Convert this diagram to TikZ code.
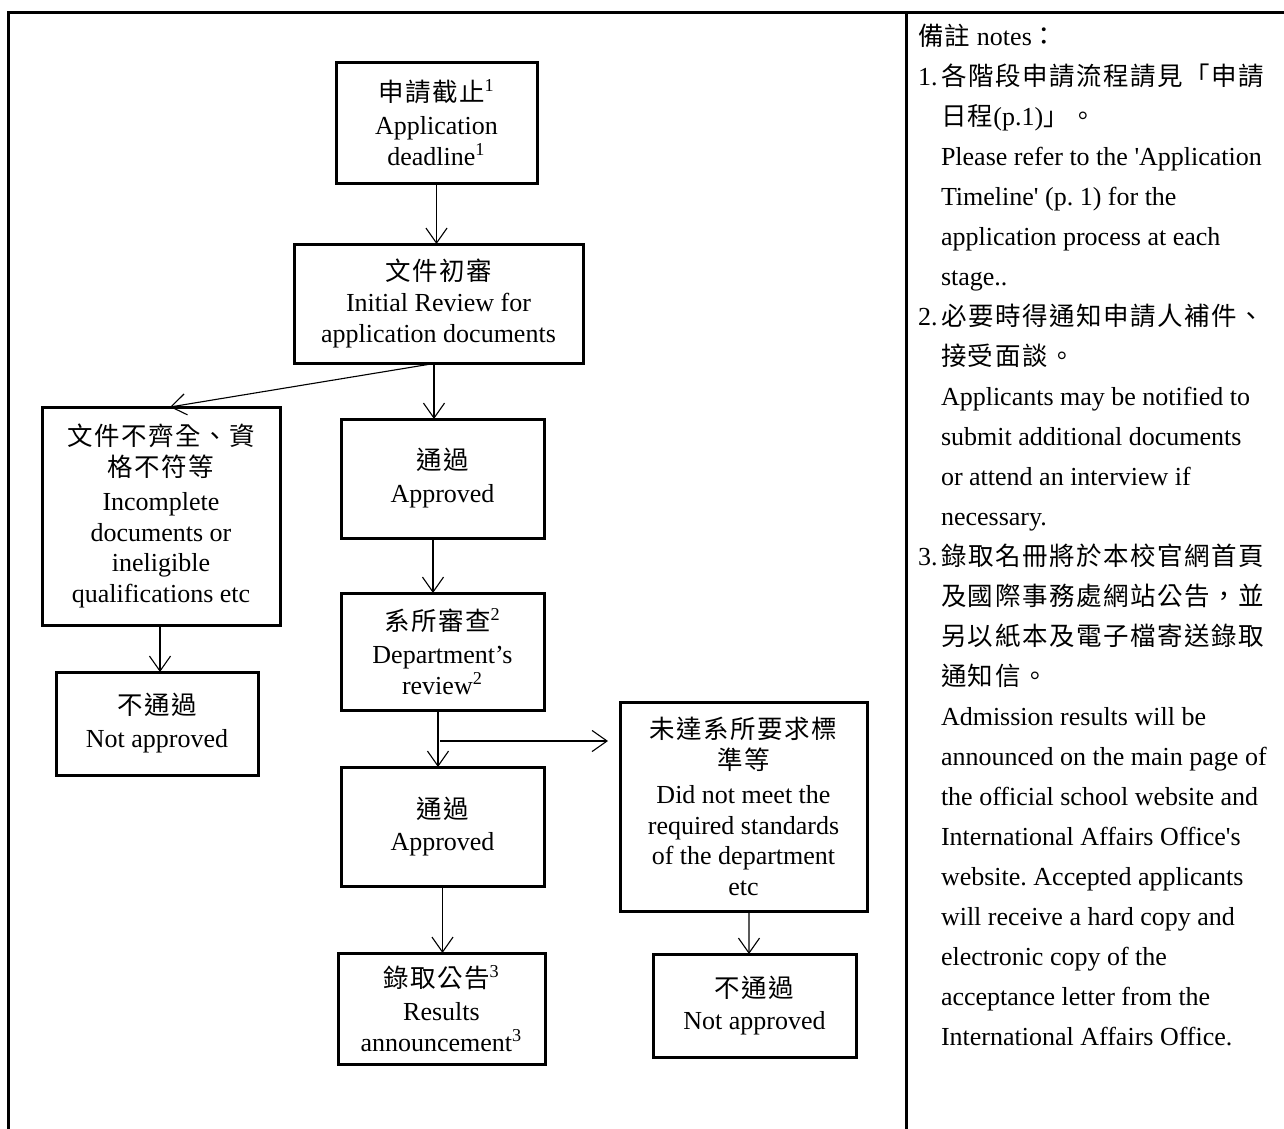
\documentclass[tikz,border=0pt]{standalone}
\usepackage{fontspec}
\setmainfont{Liberation Serif}
\newfontfamily\cjk[Scale=0.98,LetterSpace=6]{Noto Sans CJK TC}
\usetikzlibrary{arrows.meta}
\newdimen\pu \pu=0.45pt
\frenchspacing
\begin{document}
\begin{tikzpicture}[x=0.45pt,y=-0.45pt,
  font=\fontsize{11.7}{13.8}\selectfont,
  box/.style={draw, line width=1.35pt, align=center, inner sep=0pt, outer sep=0pt},
  arr/.style={line width=0.5pt, -{Straight Barb[length=6.75pt,width=9.5pt,line width=0.5pt]}},
  frame/.style={line width=1.35pt},
  note/.style={anchor=base west, inner sep=0pt, outer sep=0pt}]
\useasboundingbox (0,0) rectangle (1284,1129);
% frame
\draw[frame] (8,1129) -- (8,12) -- (1284,12);
\draw[frame] (906,12) -- (906,1129);
% boxes
\node[box, minimum width=201\pu, minimum height=121\pu] (b1) at (436.5,122.5)
  {{\cjk 申請截止}\textsuperscript{1}\\[1pt]Application\\deadline\textsuperscript{1}};
\node[box, minimum width=289\pu, minimum height=119\pu] (b2) at (438.5,303.5)
  {\raisebox{0pt}{\cjk 文件初審}\\Initial Review for\\application documents};
\node[box, minimum width=238\pu, minimum height=218\pu] (ld) at (161,516)
  {{\cjk 文件不齊全、資}\\{\cjk 格不符等}\\[1.5pt]Incomplete\\documents or\\ineligible\\qualifications etc};
\node[box, minimum width=202\pu, minimum height=103\pu] (na1) at (157,723.5)
  {{\cjk 不通過}\\[1pt]Not approved};
\node[box, minimum width=203\pu, minimum height=119\pu] (app1) at (442.5,478.5)
  {{\cjk 通過}\\[1pt]Approved};
\node[box, minimum width=203\pu, minimum height=117\pu] (dept) at (442.5,651.5)
  {{\cjk 系所審查}\textsuperscript{2}\\[1pt]Department’s\\review\textsuperscript{2}};
\node[box, minimum width=203\pu, minimum height=119\pu] (app2) at (442.5,826.5)
  {{\cjk 通過}\\[1pt]Approved};
\node[box, minimum width=207\pu, minimum height=111\pu] (res) at (441.5,1008.5)
  {{\cjk 錄取公告}\textsuperscript{3}\\[1pt]Results\\announcement\textsuperscript{3}};
\node[box, minimum width=247\pu, minimum height=209\pu] (rb) at (743.5,806.5)
  {{\cjk 未達系所要求標}\\{\cjk 準等}\\[1.5pt]Did not meet the\\required standards\\of the department\\etc};
\node[box, minimum width=203\pu, minimum height=103\pu] (na2) at (754.5,1005.5)
  {{\cjk 不通過}\\[1pt]Not approved};
% connectors
\draw[arr] (b1.south) -- (b1.south |- b2.north);
\draw[arr] ([xshift=-1.5\pu]b2.south) -- ([xshift=9\pu]ld.north);
\draw[arr] ([xshift=-4.5\pu]b2.south) -- ([xshift=-8.5\pu]app1.north);
\draw[arr] ([xshift=-1\pu]ld.south) -- ([xshift=3\pu]na1.north);
\draw[arr] ([xshift=-9.5\pu]app1.south) -- ([xshift=-9.5\pu]dept.north);
\draw[arr] ([xshift=-4.5\pu]dept.south) -- ([xshift=-4.5\pu]app2.north);
\coordinate (br) at (440,741);
\draw[arr, shorten >=12\pu] (br) -- (br -| rb.west);
\draw[arr] (app2.south) -- (app2.south |- res.north);
\draw[arr] ([xshift=5.5\pu]rb.south) -- ([xshift=-5.5\pu]na2.north);
% notes
\node[note] (n1) at (918,45) {{\cjk 備註} notes{\cjk ：}};
\node[note] (n2) at (918,85) {\makebox[23\pu][l]{1.}{\cjk 各階段申請流程請見「申請}};
\node[note] (n3) at (941,125) {{\cjk 日程}(p.1){\cjk 」。}};
\node[note] (n4) at (941,165) {Please refer to the \textquotesingle Application};
\node[note] (n5) at (941,205) {Timeline\textquotesingle{} (p. 1) for the};
\node[note] (n6) at (941,245) {application process at each};
\node[note] (n7) at (941,285) {stage..};
\node[note] (n8) at (918,325) {\makebox[23\pu][l]{2.}{\cjk 必要時得通知申請人補件、}};
\node[note] (n9) at (941,365) {{\cjk 接受面談。}};
\node[note] (n10) at (941,405) {Applicants may be notified to};
\node[note] (n11) at (941,445) {submit additional documents};
\node[note] (n12) at (941,485) {or attend an interview if};
\node[note] (n13) at (941,525) {necessary.};
\node[note] (n14) at (918,565) {\makebox[23\pu][l]{3.}{\cjk 錄取名冊將於本校官網首頁}};
\node[note] (n15) at (941,605) {{\cjk 及國際事務處網站公告，並}};
\node[note] (n16) at (941,645) {{\cjk 另以紙本及電子檔寄送錄取}};
\node[note] (n17) at (941,685) {{\cjk 通知信。}};
\node[note] (n18) at (941,725) {Admission results will be};
\node[note] (n19) at (941,765) {announced on the main page of};
\node[note] (n20) at (941,805) {the official school website and};
\node[note] (n21) at (941,845) {International Affairs Office\textquotesingle s};
\node[note] (n22) at (941,885) {website. Accepted applicants};
\node[note] (n23) at (941,925) {will receive a hard copy and};
\node[note] (n24) at (941,965) {electronic copy of the};
\node[note] (n25) at (941,1005) {acceptance letter from the};
\node[note] (n26) at (941,1045) {International Affairs Office.};
\end{tikzpicture}
\end{document}
